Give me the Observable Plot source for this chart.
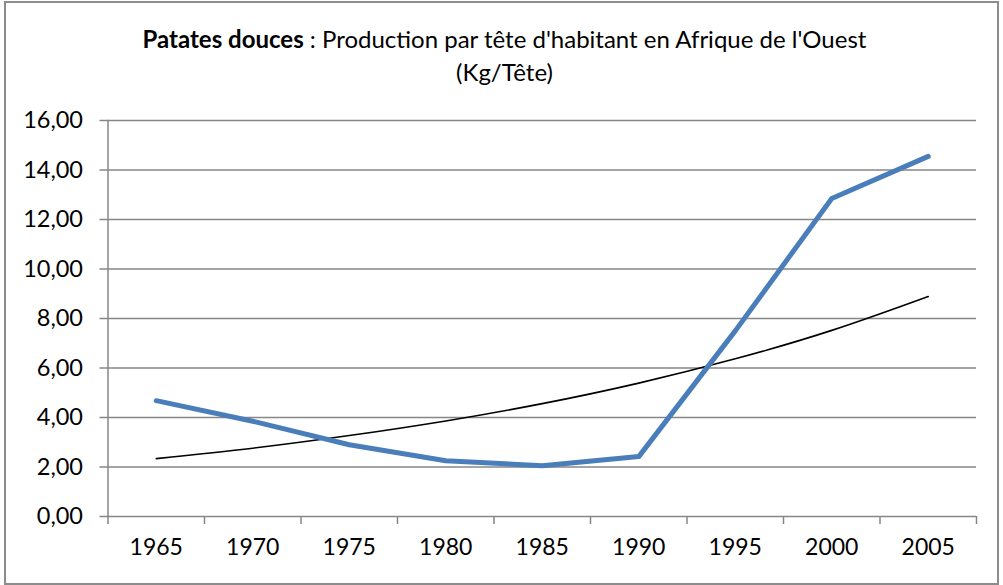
<!DOCTYPE html>
<html><head><meta charset="utf-8">
<script src="https://cdn.jsdelivr.net/npm/d3@7"></script>
<script src="https://cdn.jsdelivr.net/npm/@observablehq/plot@0.6"></script>
<style>
body{margin:0;background:#fff;}
#wrap{position:relative;width:1003px;height:585px;font-family:Lato,"Open Sans",sans-serif;}
#frame{position:absolute;left:4px;top:1px;width:991px;height:580px;border:2px solid #8c8c8c;}
#title{position:absolute;left:0;width:1009px;top:22px;text-align:center;font-size:24px;line-height:33px;color:#000;}
#chart{position:absolute;left:0;top:0;}
</style></head>
<body><div id="wrap"><div id="frame"></div><div id="chart"></div>
<div id="title"><b>Patates douces</b> : Production par tête d'habitant en Afrique de l'Ouest<br>(Kg/Tête)</div></div>
<script>
const years = [1965, 1970, 1975, 1980, 1985, 1990, 1995, 2000, 2005];
const production = [4.68, 3.85, 2.9, 2.25, 2.05, 2.42, 7.5, 12.85, 14.55];
const trend = [2.34, 2.76, 3.27, 3.86, 4.56, 5.39, 6.37, 7.52, 8.89];
const yTicks = [0, 2, 4, 6, 8, 10, 12, 14, 16];

const half = 2.5;
const boundaries = [...years.map(y => y - half), years[years.length - 1] + half];
const data = years.map((y, i) => ({year: y, prod: production[i], trend: trend[i]}));
const fmt = d => d.toFixed(2).replace(".", ",");
const grid = "#868686";

const chart = Plot.plot({
  width: 1003, height: 585,
  marginTop: 120, marginLeft: 107.5, marginRight: 27, marginBottom: 69,
  style: {fontFamily: "Lato, 'Open Sans', sans-serif", fontSize: "23px", color: "#000", background: "transparent"},
  x: {domain: [boundaries[0], boundaries[boundaries.length - 1]]},
  y: {domain: [0, 16]},
  marks: [
    Plot.gridY(yTicks, {stroke: grid, strokeOpacity: 1, strokeWidth: 1.5}),
    Plot.frame({anchor: "left", stroke: grid, strokeWidth: 1.5}),
    Plot.axisY(yTicks, {tickFormat: fmt, tickSize: 8, tickPadding: 17, stroke: grid, strokeWidth: 1.5, label: null, fontSize: 23.5}),
    Plot.axisX(boundaries, {tickFormat: () => "", tickSize: 8, stroke: grid, strokeWidth: 1.5, label: null}),
    Plot.axisX(years, {tickFormat: d => String(d), tickSize: 0, tickPadding: 22, label: null, fontSize: 23}),
    Plot.line(data, {x: "year", y: "trend", stroke: "#000", strokeWidth: 1.6, curve: "natural"}),
    Plot.line(data, {x: "year", y: "prod", stroke: "#4a7ebb", strokeWidth: 5, strokeLinejoin: "round", strokeLinecap: "round"})
  ]
});
document.getElementById("chart").appendChild(chart);
</script></body></html>
